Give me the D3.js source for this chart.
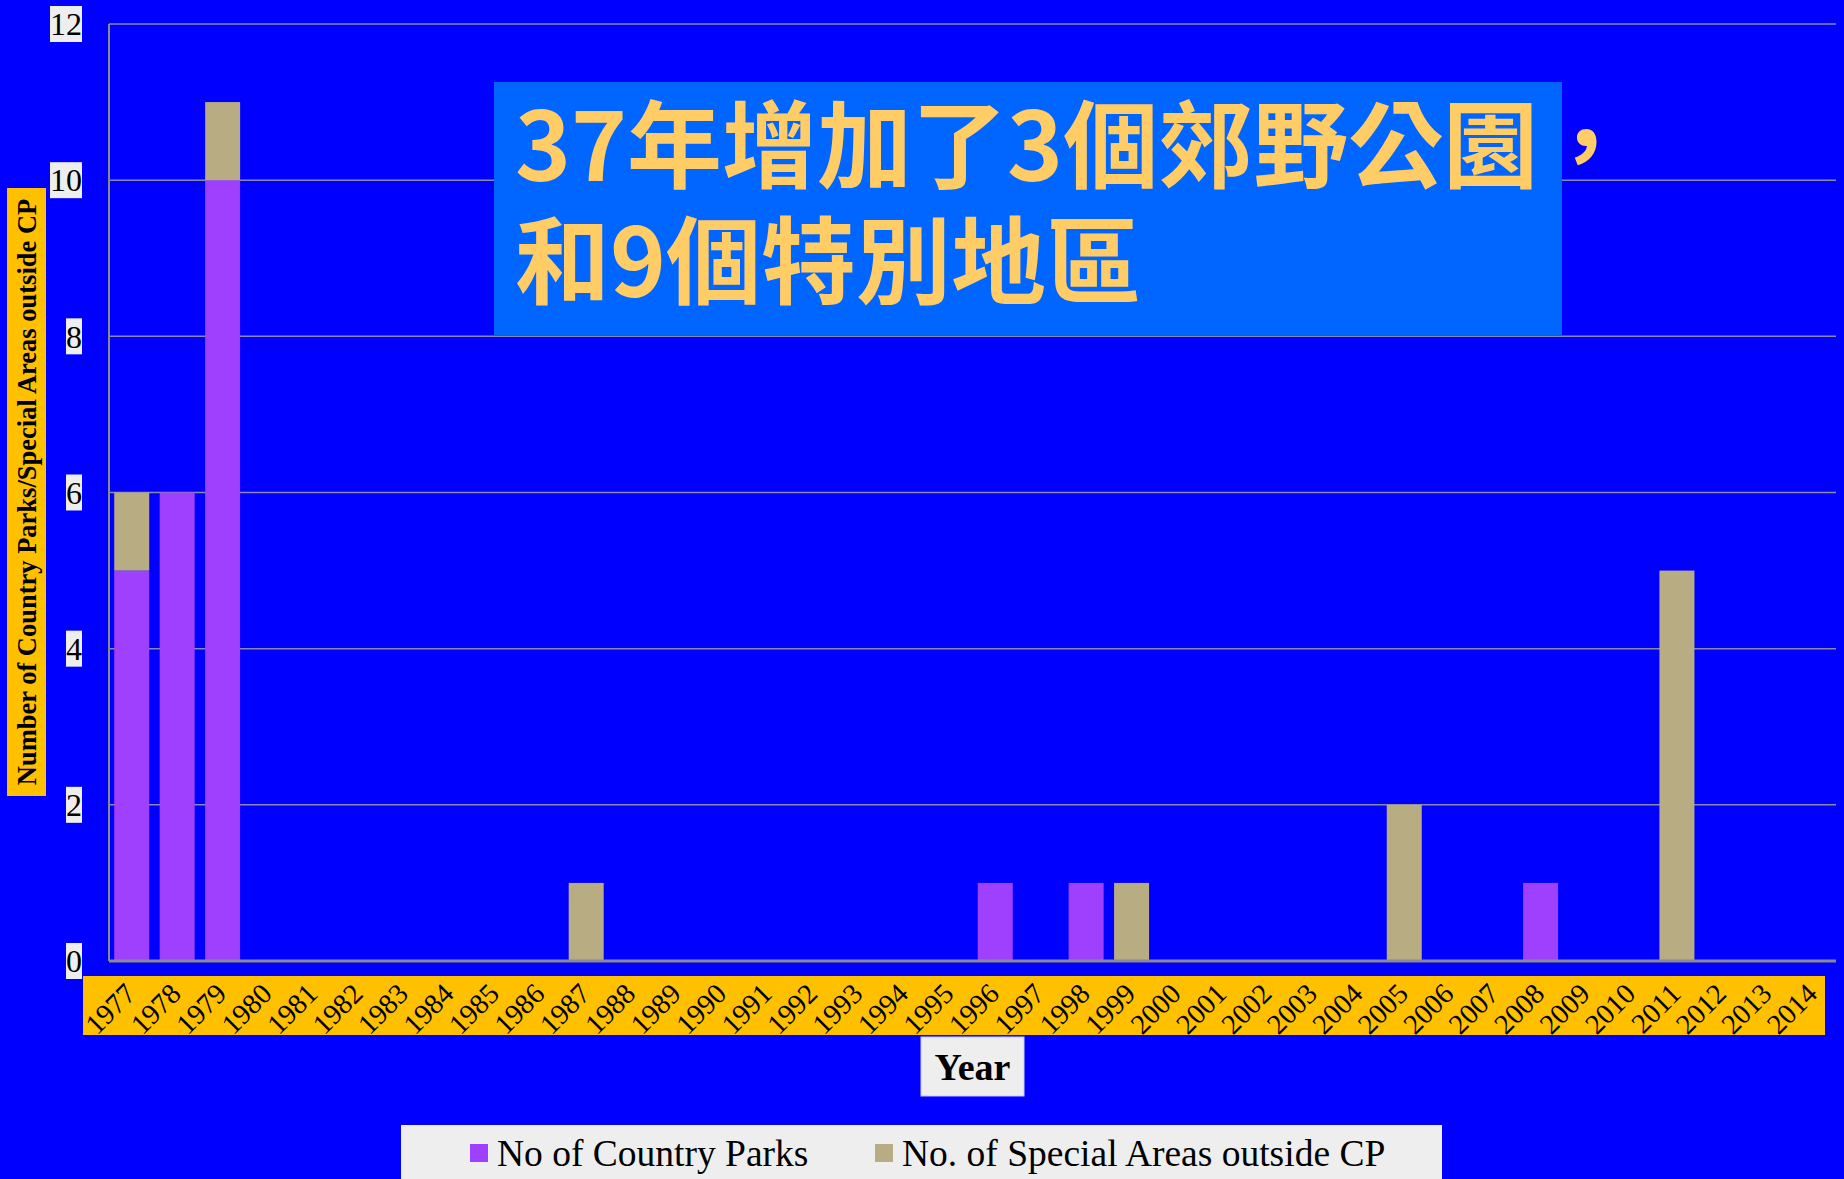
<!DOCTYPE html>
<html>
<head>
<meta charset="utf-8">
<script src="https://cdn.jsdelivr.net/npm/d3@7"></script>
<style>
  html, body { margin: 0; padding: 0; background: #0000ff; }
  svg { display: block; }
</style>
</head>
<body>
<script>
let width = 1844;
let height = 1179;

// data
const years = d3.range(1977, 2015).map(String);
const countryParks = [5, 6, 10, 0, 0, 0, 0, 0, 0, 0, 0, 0, 0, 0, 0, 0, 0, 0, 0, 1, 0, 1, 0, 0, 0, 0, 0, 0, 0, 0, 0, 1, 0, 0, 0, 0, 0, 0];
const specialAreas = [1, 0, 1, 0, 0, 0, 0, 0, 0, 0, 1, 0, 0, 0, 0, 0, 0, 0, 0, 0, 0, 0, 1, 0, 0, 0, 0, 0, 2, 0, 0, 0, 0, 0, 5, 0, 0, 0];
const yTicks = [0, 2, 4, 6, 8, 10, 12];
const seriesNames = ['No of Country Parks', 'No. of Special Areas outside CP'];
const seriesColors = ['#a040ff', '#b8ad82'];
const titleLines = ['37年增加了3個郊野公園，', '和9個特別地區'];

let plot = { left: 109, right: 1836, top: 24, bottom: 961 };
const serif = '"Liberation Serif", "Times New Roman", serif';

let svg = d3.select('body').append('svg')
	.attr('width', width)
	.attr('height', height)
	.style('background-color', '#0000ff');

let x = d3.scaleBand()
	.domain(years)
	.range([plot.left, plot.right])
	.paddingInner(0.23)
	.paddingOuter(0.115);

let y = d3.scaleLinear()
	.domain([0, 12])
	.range([plot.bottom, plot.top]);

// gridlines
svg.append('g')
	.selectAll('line')
	.data(yTicks.filter(d => d > 0))
	.join('line')
	.attr('x1', plot.left)
	.attr('x2', plot.right)
	.attr('y1', d => y(d))
	.attr('y2', d => y(d))
	.style('stroke', '#8a8aa8')
	.style('stroke-width', 1.5);

// stacked bars
let table = years.map((yr, i) => ({ year: yr, cp: countryParks[i], sa: specialAreas[i] }));
let stacked = d3.stack().keys(['cp', 'sa'])(table);

svg.append('g')
	.selectAll('g')
	.data(stacked)
	.join('g')
	.style('fill', (d, i) => seriesColors[i])
	.selectAll('rect')
	.data(d => d.filter(s => s[1] > s[0]))
	.join('rect')
	.attr('x', d => x(d.data.year))
	.attr('width', x.bandwidth())
	.attr('y', d => y(d[1]))
	.attr('height', d => y(d[0]) - y(d[1]));

// axis lines
svg.append('line')
	.attr('x1', plot.left).attr('x2', plot.left)
	.attr('y1', plot.top).attr('y2', plot.bottom)
	.style('stroke', '#8a8a8a').style('stroke-width', 2);
svg.append('line')
	.attr('x1', plot.left).attr('x2', plot.right)
	.attr('y1', plot.bottom).attr('y2', plot.bottom)
	.style('stroke', '#8a8a8a').style('stroke-width', 3);

// y tick labels with light boxes
let yLab = svg.append('g')
	.selectAll('g')
	.data(yTicks)
	.join('g')
	.attr('transform', d => 'translate(82,' + y(d) + ')');
yLab.each(function (d) {
	let g = d3.select(this);
	let bg = g.append('rect').style('fill', '#eeeeee');
	let t = g.append('text')
		.text(d)
		.attr('text-anchor', 'end')
		.attr('dy', '0.35em')
		.style('font-family', serif)
		.style('font-size', '32px')
		.style('fill', '#000');
	let b = t.node().getBBox();
	bg.attr('x', b.x).attr('y', -18).attr('width', b.width).attr('height', 36);
});

// x axis band
svg.append('rect')
	.attr('x', 83).attr('y', 976)
	.attr('width', 1742).attr('height', 59)
	.style('fill', '#ffc000');

svg.append('g')
	.selectAll('text')
	.data(years)
	.join('text')
	.text(d => d)
	.attr('text-anchor', 'end')
	.attr('transform', d => 'translate(' + (x(d) + x.bandwidth() / 2 - 9) + ',981) rotate(-45)')
	.attr('dy', '0.72em')
	.style('font-family', serif)
	.style('font-size', '28.5px')
	.style('fill', '#000');

// x axis title
let xt = svg.append('g');
xt.append('rect')
	.attr('x', 921).attr('y', 1037)
	.attr('width', 103).attr('height', 59)
	.style('fill', '#eeeeee')
	.style('stroke', '#c8c8ff')
	.style('stroke-width', 1);
xt.append('text')
	.text('Year')
	.attr('x', 972.5).attr('y', 1080)
	.attr('text-anchor', 'middle')
	.style('font-family', serif)
	.style('font-weight', 'bold')
	.style('font-size', '38px')
	.style('fill', '#000');

// y axis title
let yt = svg.append('g').attr('transform', 'translate(26.5,492) rotate(-90)');
yt.append('rect')
	.attr('x', -304).attr('y', -19.5)
	.attr('width', 608).attr('height', 39)
	.style('fill', '#ffc000');
yt.append('text')
	.text('Number of Country Parks/Special Areas outside CP')
	.attr('text-anchor', 'middle')
	.attr('dy', '0.35em')
	.style('font-family', serif)
	.style('font-weight', 'bold')
	.style('font-size', '26.5px')
	.style('fill', '#000');

// legend
svg.append('rect')
	.attr('x', 401).attr('y', 1125)
	.attr('width', 1041).attr('height', 60)
	.style('fill', '#eeeeee');
let legendX = [470, 875];
let leg = svg.append('g')
	.selectAll('g')
	.data(seriesNames)
	.join('g')
	.attr('transform', (d, i) => 'translate(' + legendX[i] + ',1144)');
leg.append('rect')
	.attr('width', 18).attr('height', 18)
	.style('fill', (d, i) => seriesColors[i]);
leg.append('text')
	.text(d => d)
	.attr('x', 27).attr('y', 9)
	.attr('dy', '0.35em')
	.style('font-family', serif)
	.style('font-size', '37.5px')
	.style('fill', '#000');

// title box, two lines in one text
svg.append('rect')
	.attr('x', 494).attr('y', 82)
	.attr('width', 1068).attr('height', 253)
	.style('fill', '#0066ff');
svg.append('text')
	.style('font-family', '"Noto Sans CJK TC", "Noto Sans CJK SC", sans-serif')
	.style('font-weight', 'bold')
	.style('font-size', '95px')
	.style('fill', '#ffcc66')
	.selectAll('tspan')
	.data(titleLines)
	.join('tspan')
	.text(d => d)
	.attr('x', 515)
	.attr('y', (d, i) => 181 + i * 116);
</script>
</body>
</html>
